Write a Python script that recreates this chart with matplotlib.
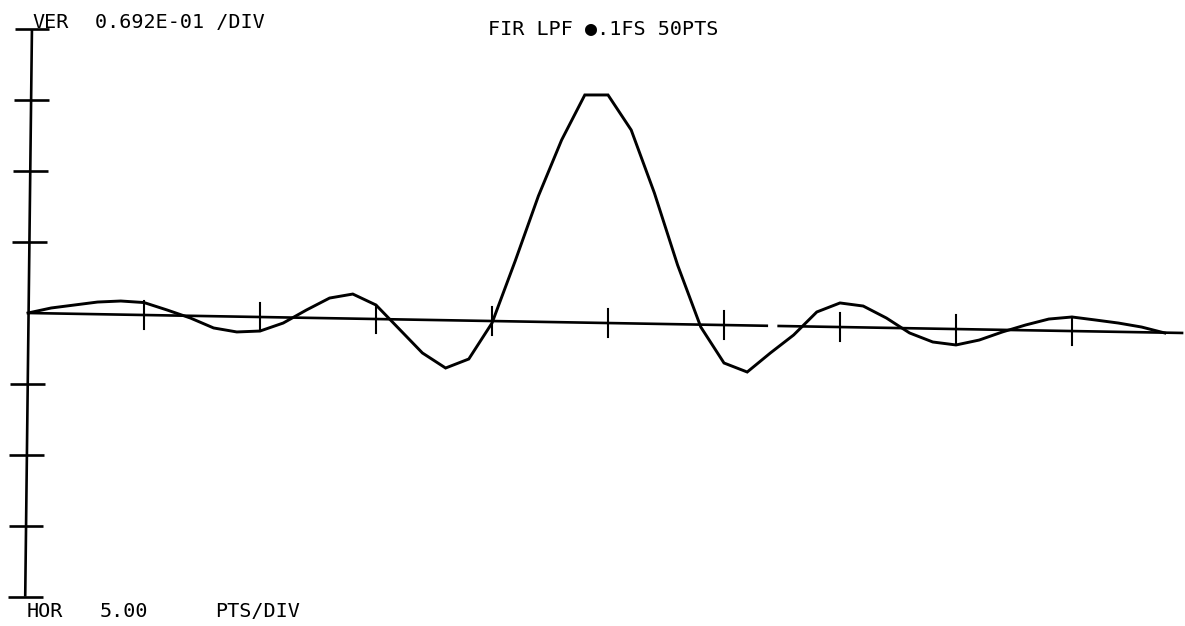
import numpy as np
import matplotlib.pyplot as plt

# impulse response of the 50 point FIR low-pass
N_PTS = np.arange(50)
H = [0.0, 0.0049, 0.0078, 0.0107, 0.0117, 0.0102, 0.0029, -0.0049, -0.0146, -0.0185,
     -0.0176, -0.0098, 0.0029, 0.0146, 0.0185, 0.0078, -0.0156, -0.0390, -0.0537, -0.0449,
     -0.0098, 0.0508, 0.1142, 0.1688, 0.2128, 0.2128, 0.1786, 0.1171, 0.0468, -0.0137,
     -0.0488, -0.0576, -0.0390, -0.0215, 0.0010, 0.0098, 0.0068, -0.0049, -0.0195, -0.0283,
     -0.0312, -0.0264, -0.0185, -0.0117, -0.0059, -0.0039, -0.0068, -0.0098, -0.0137, -0.0195]

# plotter baseline (paper is slightly skewed) and its gap
BASE_X = [0.0, 49.8]
BASE_Y = [0.0, -0.0195]
BASE_GAP = (31.9, 32.3)

VDIV = 0.0692          # per vertical division
HDIV = 5               # points per horizontal division
N_VDIV = 4
X_TICKS = np.arange(HDIV, 50, HDIV)
Y_TICKS = np.arange(-N_VDIV, N_VDIV + 1) * VDIV
AXIS_X = [0.17, -0.12]  # top / bottom x of the vertical axis (skew)

W, H_PX = 1185, 626
fig = plt.figure(figsize=(W / 100, H_PX / 100), dpi=100)
ax = fig.add_axes([0, 0, 1, 1])
ax.set_xlim(-28 / 23.2, (W - 28) / 23.2)
ax.set_ylim(-313 * 0.000976, 313 * 0.000976)
ax.axis("off")

kw = dict(color="black", lw=1.9, solid_capstyle="butt")

# vertical axis with ticks
top, bot = Y_TICKS[-1], Y_TICKS[0]
ax.plot(AXIS_X, [top, bot], **kw)
for yt in Y_TICKS:
    if yt == 0:
        continue
    xc = np.interp(yt, [bot, top], AXIS_X[::-1])
    ax.plot([xc - 0.75, xc + 0.75], [yt, yt], **kw)

# baseline with gap and ticks
def base(x):
    return np.interp(x, BASE_X, BASE_Y)

ax.plot([BASE_X[0], BASE_GAP[0]], [base(BASE_X[0]), base(BASE_GAP[0])], **kw)
ax.plot([BASE_GAP[1], BASE_X[1]], [base(BASE_GAP[1]), base(BASE_X[1])], **kw)
for xt in X_TICKS:
    yb = base(xt)
    ax.plot([xt, xt], [yb - 0.0137, yb + 0.0137], color="black", lw=1.5)

# the response
ax.plot(N_PTS, H, color="black", lw=2.1, solid_joinstyle="miter")

font = dict(family="DejaVu Sans Mono", fontsize=14.5, color="black", va="baseline")

def ptext(px, py, s):
    fig.text(px / W, 1 - py / H_PX, s, **font)

ptext(32, 28, "VER")
ptext(95, 28, "0.692E-01 /DIV")
ptext(488, 35, "FIR LPF \u25cf.1FS 50PTS")
ptext(27, 617, "HOR")
ptext(100, 617, "5.00")
ptext(215, 617, "PTS/DIV")

fig.savefig("out.png", dpi=100, facecolor="white")
